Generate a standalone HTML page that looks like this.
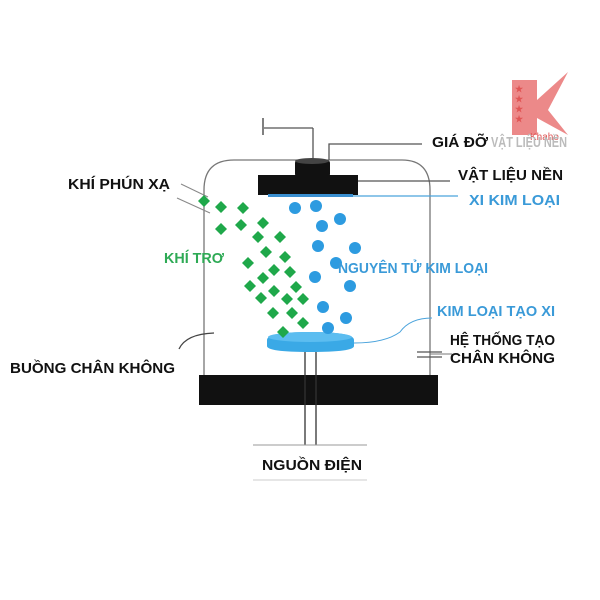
<!DOCTYPE html><html><head><style>body{margin:0;background:#fff}svg{display:block}text{font-family:"Liberation Sans",sans-serif;font-weight:bold;font-size:15px}</style></head><body>
<svg width="600" height="600" viewBox="0 0 600 600">
<polygon points="512,80 537,80 537,100 568,72 548,110 568,135 537,118 537,135 512,135" fill="#e97474" opacity="0.85"/>
<g fill="#e05555"><text x="515" y="92" style="font-size:9px">★</text><text x="515" y="102" style="font-size:9px">★</text><text x="515" y="112" style="font-size:9px">★</text><text x="515" y="122" style="font-size:9px">★</text></g>
<text x="530" y="140" fill="#e05555" style="font-size:10px;font-weight:normal">Khaho</text>
<path d="M204,375 V190 Q204,160 234,160 H402 Q430,160 430,190 V375" fill="none" stroke="#777" stroke-width="1.3"/>
<rect x="199" y="375" width="239" height="30" fill="#111"/>
<line x1="313" y1="160" x2="313" y2="128" stroke="#555" stroke-width="1.3"/>
<line x1="313" y1="128" x2="264" y2="128" stroke="#555" stroke-width="1.3"/>
<line x1="263" y1="118" x2="263" y2="135" stroke="#555" stroke-width="1.5"/>
<polyline points="329,160 329,144 422,144" fill="none" stroke="#555" stroke-width="1.3"/>
<rect x="295" y="160" width="35" height="17" rx="3" fill="#111"/>
<ellipse cx="312" cy="161" rx="17" ry="3" fill="#444"/>
<rect x="258" y="175" width="100" height="20" fill="#111"/>
<rect x="268" y="194" width="85" height="3" fill="#3a8fd0"/>
<line x1="358" y1="181" x2="450" y2="181" stroke="#555" stroke-width="1.2"/>
<line x1="353" y1="196" x2="458" y2="196" stroke="#4aa3dc" stroke-width="1.2"/>
<line x1="181" y1="184" x2="208" y2="197" stroke="#888" stroke-width="1"/>
<line x1="177" y1="198" x2="210" y2="213" stroke="#888" stroke-width="1"/>
<path d="M179,349 Q186,334 214,333" fill="none" stroke="#444" stroke-width="1.3"/>
<line x1="417" y1="352" x2="442" y2="352" stroke="#555" stroke-width="1.3"/>
<line x1="417" y1="357" x2="442" y2="357" stroke="#555" stroke-width="1.3"/>
<line x1="430" y1="354" x2="452" y2="354" stroke="#777" stroke-width="1"/>
<path d="M354,343 Q385,343 400,332 Q410,318 432,318" fill="none" stroke="#4aa3dc" stroke-width="1"/>
<line x1="305" y1="352" x2="305" y2="445" stroke="#333" stroke-width="1.3"/>
<line x1="316" y1="352" x2="316" y2="445" stroke="#333" stroke-width="1.3"/>
<path d="M267,340 Q267,332 310,332 Q354,332 354,340 V346 Q354,352 310,352 Q267,352 267,346 Z" fill="#3aa9e6"/>
<ellipse cx="310" cy="337" rx="42" ry="5" fill="#5cbdf0"/>
<line x1="253" y1="445" x2="367" y2="445" stroke="#999" stroke-width="1"/>
<line x1="253" y1="480" x2="367" y2="480" stroke="#ccc" stroke-width="1"/>
<g fill="#1fa84a">
<path d="M204,195l6,6l-6,6l-6,-6z"/><path d="M221,201l6,6l-6,6l-6,-6z"/><path d="M243,202l6,6l-6,6l-6,-6z"/><path d="M221,223l6,6l-6,6l-6,-6z"/><path d="M241,219l6,6l-6,6l-6,-6z"/><path d="M263,217l6,6l-6,6l-6,-6z"/><path d="M258,231l6,6l-6,6l-6,-6z"/><path d="M280,231l6,6l-6,6l-6,-6z"/><path d="M266,246l6,6l-6,6l-6,-6z"/><path d="M285,251l6,6l-6,6l-6,-6z"/><path d="M248,257l6,6l-6,6l-6,-6z"/><path d="M274,264l6,6l-6,6l-6,-6z"/><path d="M290,266l6,6l-6,6l-6,-6z"/><path d="M263,272l6,6l-6,6l-6,-6z"/><path d="M250,280l6,6l-6,6l-6,-6z"/><path d="M274,285l6,6l-6,6l-6,-6z"/><path d="M296,281l6,6l-6,6l-6,-6z"/><path d="M261,292l6,6l-6,6l-6,-6z"/><path d="M287,293l6,6l-6,6l-6,-6z"/><path d="M303,293l6,6l-6,6l-6,-6z"/><path d="M273,307l6,6l-6,6l-6,-6z"/><path d="M292,307l6,6l-6,6l-6,-6z"/><path d="M303,317l6,6l-6,6l-6,-6z"/><path d="M283,326l6,6l-6,6l-6,-6z"/>
</g>
<g fill="#2d9be0">
<circle cx="295" cy="208" r="6"/><circle cx="316" cy="206" r="6"/><circle cx="340" cy="219" r="6"/><circle cx="322" cy="226" r="6"/><circle cx="318" cy="246" r="6"/><circle cx="355" cy="248" r="6"/><circle cx="336" cy="263" r="6"/><circle cx="315" cy="277" r="6"/><circle cx="350" cy="286" r="6"/><circle cx="323" cy="307" r="6"/><circle cx="346" cy="318" r="6"/><circle cx="328" cy="328" r="6"/>
</g>
<text x="432" y="147" fill="#111" textLength="56" lengthAdjust="spacingAndGlyphs">GIÁ ĐỠ</text>
<text x="491" y="147" fill="#bbb" textLength="76" lengthAdjust="spacingAndGlyphs">VẬT LIỆU NỀN</text>
<text x="458" y="180" fill="#111" textLength="105" lengthAdjust="spacingAndGlyphs">VẬT LIỆU NỀN</text>
<text x="469" y="205" fill="#3a9ad8" textLength="91" lengthAdjust="spacingAndGlyphs">XI KIM LOẠI</text>
<text x="68" y="189" fill="#111" textLength="102" lengthAdjust="spacingAndGlyphs">KHÍ PHÚN XẠ</text>
<text x="164" y="263" fill="#2eaa55" textLength="60" lengthAdjust="spacingAndGlyphs">KHÍ TRƠ</text>
<text x="338" y="273" fill="#3a9ad8" textLength="150" lengthAdjust="spacingAndGlyphs">NGUYÊN TỬ KIM LOẠI</text>
<text x="437" y="316" fill="#3a9ad8" textLength="118" lengthAdjust="spacingAndGlyphs">KIM LOẠI TẠO XI</text>
<text x="450" y="345" fill="#111" textLength="105" lengthAdjust="spacingAndGlyphs">HỆ THỐNG TẠO</text>
<text x="450" y="363" fill="#111" textLength="105" lengthAdjust="spacingAndGlyphs">CHÂN KHÔNG</text>
<text x="10" y="373" fill="#111" textLength="165" lengthAdjust="spacingAndGlyphs">BUỒNG CHÂN KHÔNG</text>
<text x="262" y="470" fill="#111" textLength="100" lengthAdjust="spacingAndGlyphs">NGUỒN ĐIỆN</text>
</svg></body></html>
